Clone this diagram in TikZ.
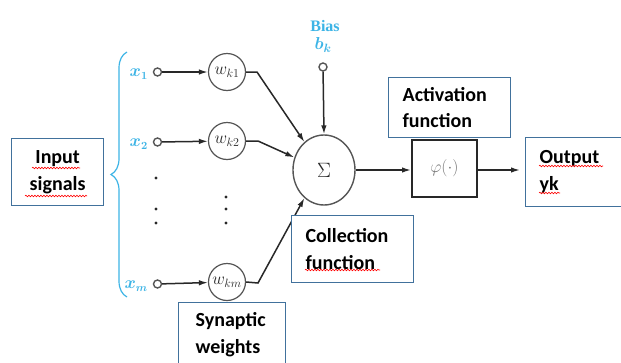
\documentclass[tikz,border=0pt]{standalone}
\usepackage{fontspec}
\usepackage{bm}
\newfontfamily\boxfont{Carlito}
\newfontfamily\serfont{Liberation Serif}
\usetikzlibrary{arrows.meta,decorations.pathreplacing,decorations.pathmorphing,shapes.geometric}
\definecolor{boxblue}{RGB}{65,113,156}
\definecolor{cyanlab}{RGB}{60,180,230}
\definecolor{ink}{RGB}{40,40,40}
\definecolor{ringgray}{RGB}{85,85,85}
\definecolor{phigray}{RGB}{120,120,120}
\tikzset{
  lbox/.style={draw=boxblue, line width=1.3pt, fill=white, inner ysep=0pt,
    font=\boxfont\bfseries\fontsize{20}{26.5}\selectfont, text=black},
  wcirc/.style={circle, draw=ringgray, line width=1.2pt, minimum size=37pt, inner sep=0pt,
    font=\fontsize{17}{17}\selectfont, text=ink},
  incirc/.style={circle, draw=ringgray, line width=1.4pt, minimum size=8pt, inner sep=0pt, fill=white},
  conn/.style={draw=ink, line width=1.5pt},
  arr/.style={conn, -{Latex[length=9pt,width=5.5pt]}},
  xlab/.style={text=cyanlab, font=\fontsize{16}{16}\selectfont, inner sep=0pt, anchor=east},
  wavy/.style={draw=red, line width=0.6pt, decorate, decoration={snake, amplitude=0.8pt, segment length=3pt}}
}
\begin{document}
\begin{tikzpicture}[x=1pt,y=-1pt]
\useasboundingbox (0,0) rectangle (621,362);
\clip (0,0) rectangle (621,362);
\fill[white] (0,0) rectangle (621,362);

% brace
\draw[cyanlab, line width=1.2pt, decorate, decoration={brace, amplitude=16pt}]
  (127,297) -- (127,52);

% input circles and labels
\node[incirc] (c1) at (157.5,72) {};
\node[incirc] (c2) at (157.5,142) {};
\node[incirc] (cm) at (157.5,284) {};
\node[xlab] (x1) at (148,74) {$\bm{x}_{\bm{1}}$};
\node[xlab] (x2) at (148,144) {$\bm{x}_{\bm{2}}$};
\node[xlab] (xm) at (148,286) {$\bm{x}_{\bm{m}}$};

% weights
\node[wcirc] (w1) at (227,72) {$w_{k1}$};
\node[wcirc] (w2) at (227,141) {$w_{k2}$};
\node[wcirc] (wm) at (227,282) {$w_{km}$};

\draw[arr] (c1) -- (w1);
\draw[arr] (c2) -- (w2);
\draw[arr] (cm) -- (wm);

% dots
\foreach \yy in {178,209,223} \fill[ink] (156,\yy) circle (1.6pt);
\foreach \yy in {197,209,223} \fill[ink] (226,\yy) circle (1.6pt);

% summing junction
\node[ellipse, draw=ringgray, line width=1.4pt, minimum width=62pt, minimum height=70pt,
  inner sep=0pt, font=\fontsize{21}{21}\selectfont, text=ink] (sig) at (324,170) {$\Sigma$};

\coordinate (e1) at (257,72);
\coordinate (e2) at (258,141);
\coordinate (em) at (258,283);
\draw[arr] (w1.east) -- (e1) -- (sig.125);
\draw[arr] (w2.east) -- (e2) -- (sig.157);
\draw[arr] (wm.east) -- (em) -- (sig.235);

% bias
\node[text=cyanlab, font=\serfont\bfseries\fontsize{16}{16}\selectfont, inner sep=0pt] (bias) at (325,26) {Bias};
\node[text=cyanlab, font=\fontsize{17}{17}\selectfont, inner sep=0pt] (bk) at (323,45) {$\bm{b}_{\bm{k}}$};
\node[incirc] (cb) at (323,67) {};
\draw[arr] (cb) -- (sig.north);

% activation
\node[draw=ink, line width=1.8pt, minimum width=65pt, minimum height=57pt, inner sep=0pt,
  anchor=north west, text=phigray, font=\fontsize{16}{16}\selectfont] (phi) at (411,139)
  {\raisebox{5pt}{$\varphi(\cdot)$}};
\draw[arr] (sig.east) -- (sig.east -| phi.west);

% label boxes
\node[lbox, anchor=north west, minimum width=92pt, minimum height=67pt, inner xsep=5pt,
  text width=82pt, align=center] (inbox) at (11,138) {Input\\signals};
\node[lbox, anchor=north west, minimum height=60pt, inner xsep=14pt,
  text width=94pt, align=left] (actbox) at (388,77) {Activation\\function};
\node[lbox, anchor=north west, minimum height=67pt, inner xsep=14pt,
  text width=94pt, align=left] (colbox) at (291,215) {Collection\\function};
\node[lbox, anchor=north west, minimum height=69pt, inner xsep=14pt,
  text width=77pt, align=left] (outbox) at (525,137) {Output\\yk};
\node[lbox, anchor=north west, minimum height=64pt, inner xsep=17pt,
  text width=73pt, align=left] (synbox) at (178,302) {Synaptic\\weights};

\draw[arr] (phi.east |- sig.east) -- ([xshift=-5pt]outbox.west |- sig.east);

% spell-check underlines
\draw[wavy] (32,168) -- (80,168);
\draw[wavy] (25,196) -- (87,196);
\draw[wavy] (305,270) -- (380,270);
\draw[wavy] (539,166) -- (603,166);
\draw[wavy] (539,193) -- (560,193);
\end{tikzpicture}
\end{document}
